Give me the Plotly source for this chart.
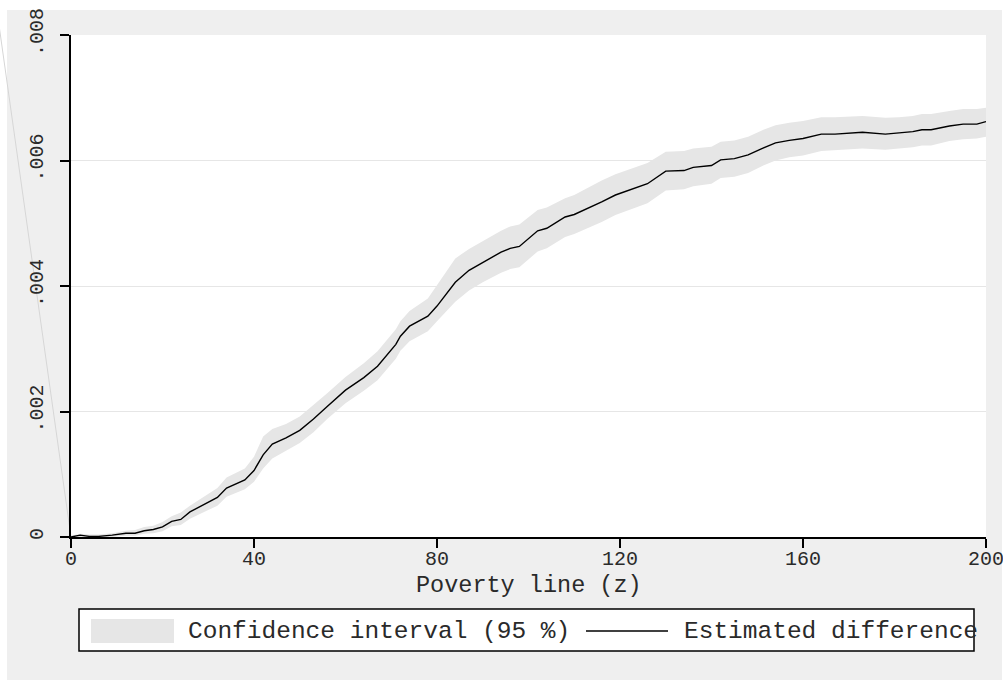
import plotly.graph_objects as go

# Poverty line values
z = [0, 2, 4, 6, 9, 12, 14, 16, 18, 20, 22, 24, 26, 29, 32, 34, 38, 40, 42, 44, 47,
     50, 53, 56, 60, 64, 67, 71, 72, 74, 78, 80, 84, 87, 90, 94, 96, 98, 102, 104,
     108, 110, 116, 119, 126, 130, 134, 136, 140, 142, 145, 148, 151, 154, 157, 160,
     164, 167, 173, 178, 181, 184, 186, 188, 192, 195, 198, 200]

# Estimated difference
est = [0.00000, 0.00003, 0.00001, 0.00001, 0.00003, 0.00006, 0.00006, 0.00010, 0.00012,
       0.00016, 0.00025, 0.00028, 0.00040, 0.00051, 0.00063, 0.00078, 0.00091, 0.00106,
       0.00131, 0.00148, 0.00158, 0.00170, 0.00188, 0.00208, 0.00234, 0.00254, 0.00272,
       0.00307, 0.00320, 0.00336, 0.00352, 0.00368, 0.00406, 0.00425, 0.00438, 0.00454,
       0.00460, 0.00463, 0.00488, 0.00492, 0.00510, 0.00514, 0.00534, 0.00545, 0.00563,
       0.00583, 0.00584, 0.00589, 0.00592, 0.00601, 0.00603, 0.00609, 0.00619, 0.00628,
       0.00632, 0.00635, 0.00642, 0.00642, 0.00645, 0.00642, 0.00644, 0.00646, 0.00649,
       0.00649, 0.00655, 0.00658, 0.00658, 0.00662]

# Lower bound of 95% confidence interval
ci_lo = [-0.00002, 0.00000, -0.00002, -0.00002, 0.00000, 0.00002, 0.00002, 0.00005, 0.00006,
         0.00009, 0.00017, 0.00019, 0.00029, 0.00039, 0.00050, 0.00064, 0.00076, 0.00088,
         0.00109, 0.00125, 0.00137, 0.00150, 0.00167, 0.00188, 0.00213, 0.00233, 0.00250,
         0.00284, 0.00297, 0.00312, 0.00328, 0.00344, 0.00375, 0.00393, 0.00406, 0.00421,
         0.00427, 0.00430, 0.00455, 0.00460, 0.00478, 0.00483, 0.00502, 0.00513, 0.00532,
         0.00552, 0.00554, 0.00559, 0.00563, 0.00572, 0.00574, 0.00580, 0.00591, 0.00600,
         0.00605, 0.00608, 0.00615, 0.00616, 0.00619, 0.00617, 0.00619, 0.00621, 0.00624,
         0.00624, 0.00631, 0.00634, 0.00635, 0.00638]

# Upper bound of 95% confidence interval
ci_hi = [0.00002, 0.00005, 0.00004, 0.00004, 0.00006, 0.00010, 0.00011, 0.00016, 0.00018,
         0.00024, 0.00033, 0.00039, 0.00050, 0.00064, 0.00078, 0.00095, 0.00109, 0.00128,
         0.00160, 0.00172, 0.00180, 0.00192, 0.00210, 0.00229, 0.00255, 0.00277, 0.00296,
         0.00331, 0.00344, 0.00360, 0.00380, 0.00402, 0.00444, 0.00459, 0.00472, 0.00488,
         0.00495, 0.00498, 0.00521, 0.00525, 0.00540, 0.00545, 0.00568, 0.00578, 0.00596,
         0.00614, 0.00615, 0.00619, 0.00622, 0.00630, 0.00632, 0.00638, 0.00648, 0.00656,
         0.00660, 0.00663, 0.00669, 0.00669, 0.00671, 0.00668, 0.00669, 0.00671, 0.00674,
         0.00674, 0.00679, 0.00682, 0.00682, 0.00684]

x_ticks = [0, 40, 80, 120, 160, 200]
y_ticks = [0, 0.002, 0.004, 0.006, 0.008]
y_tick_labels = ["0", ".002", ".004", ".006", ".008"]

FONT = "Liberation Mono, Courier New, monospace"
BAND = "#e6e6e6"
BG = "#efefef"
TXT = "#2a2a2a"

fig = go.Figure()
fig.add_trace(go.Scatter(
    x=z + z[::-1], y=ci_hi + ci_lo[::-1], fill="toself", fillcolor=BAND,
    line=dict(width=0), mode="lines", hoverinfo="skip",
    name="Confidence interval (95 %)", showlegend=False))
fig.add_trace(go.Scatter(
    x=z, y=est, mode="lines", line=dict(color="black", width=1.4),
    name="Estimated difference", showlegend=False))

W, H = 1003, 680
L, R, T, B = 71, 17, 35, 143
pw, ph = W - L - R, H - T - B


def px(xp):
    return (xp - L) / pw


def py(yp):
    return (H - B - yp) / ph


shapes = [
    # graph region background
    dict(type="rect", xref="paper", yref="paper", x0=px(7), x1=px(1002), y0=py(690), y1=py(10),
         fillcolor=BG, line=dict(width=0), layer="below"),
    # plot region
    dict(type="rect", xref="paper", yref="paper", x0=0, x1=1, y0=0, y1=1,
         fillcolor="white", line=dict(width=0), layer="below"),
    # faint stray line
    dict(type="line", xref="paper", yref="paper", x0=px(-2), y0=py(18), x1=0, y1=0,
         line=dict(color="#d6d6d6", width=1), layer="below"),
    # legend box
    dict(type="rect", xref="paper", yref="paper", x0=px(79), x1=px(974), y0=py(651), y1=py(609),
         fillcolor="white", line=dict(color="black", width=1.5), layer="above"),
    dict(type="rect", xref="paper", yref="paper", x0=px(91), x1=px(174), y0=py(643), y1=py(619),
         fillcolor=BAND, line=dict(width=0), layer="above"),
    dict(type="line", xref="paper", yref="paper", x0=px(586), x1=px(668), y0=py(631), y1=py(631),
         line=dict(color="black", width=1.5), layer="above"),
]

annotations = [
    dict(text="Poverty line (z)", xref="paper", yref="paper", x=0.5, y=py(585),
         xanchor="center", yanchor="middle", showarrow=False,
         font=dict(family=FONT, size=23.5, color=TXT)),
    dict(text="Confidence interval (95 %)", xref="paper", yref="paper", x=px(186), y=py(631),
         xanchor="left", yanchor="middle", showarrow=False,
         font=dict(family=FONT, size=24.5, color=TXT)),
    dict(text="Estimated difference", xref="paper", yref="paper", x=px(682), y=py(631),
         xanchor="left", yanchor="middle", showarrow=False,
         font=dict(family=FONT, size=24.5, color=TXT)),
]

fig.update_layout(
    width=W, height=H,
    margin=dict(l=L, r=R, t=T, b=B, pad=0, autoexpand=False),
    paper_bgcolor="white", plot_bgcolor="white",
    showlegend=False,
    shapes=shapes, annotations=annotations,
    xaxis=dict(range=[0, 200], tickvals=x_ticks, ticks="outside", ticklen=9,
               tickwidth=1.5, tickcolor="black", showline=True, linecolor="black",
               linewidth=1.5, showgrid=False, zeroline=False, automargin=False,
               ticklabeloverflow="allow", ticklabelstandoff=-7,
               tickfont=dict(family=FONT, size=20, color=TXT)),
    yaxis=dict(range=[0, 0.008], tickvals=y_ticks, ticktext=y_tick_labels,
               tickangle=-90, ticks="outside", ticklen=9, tickwidth=1.5,
               tickcolor="black", showline=True, linecolor="black", linewidth=1.5,
               showgrid=True, gridcolor="#e6e6e6", gridwidth=1, zeroline=False,
               automargin=False, ticklabelstandoff=9, ticklabeloverflow="allow",
               tickfont=dict(family=FONT, size=20, color=TXT)),
)

fig.write_html("out.html")
